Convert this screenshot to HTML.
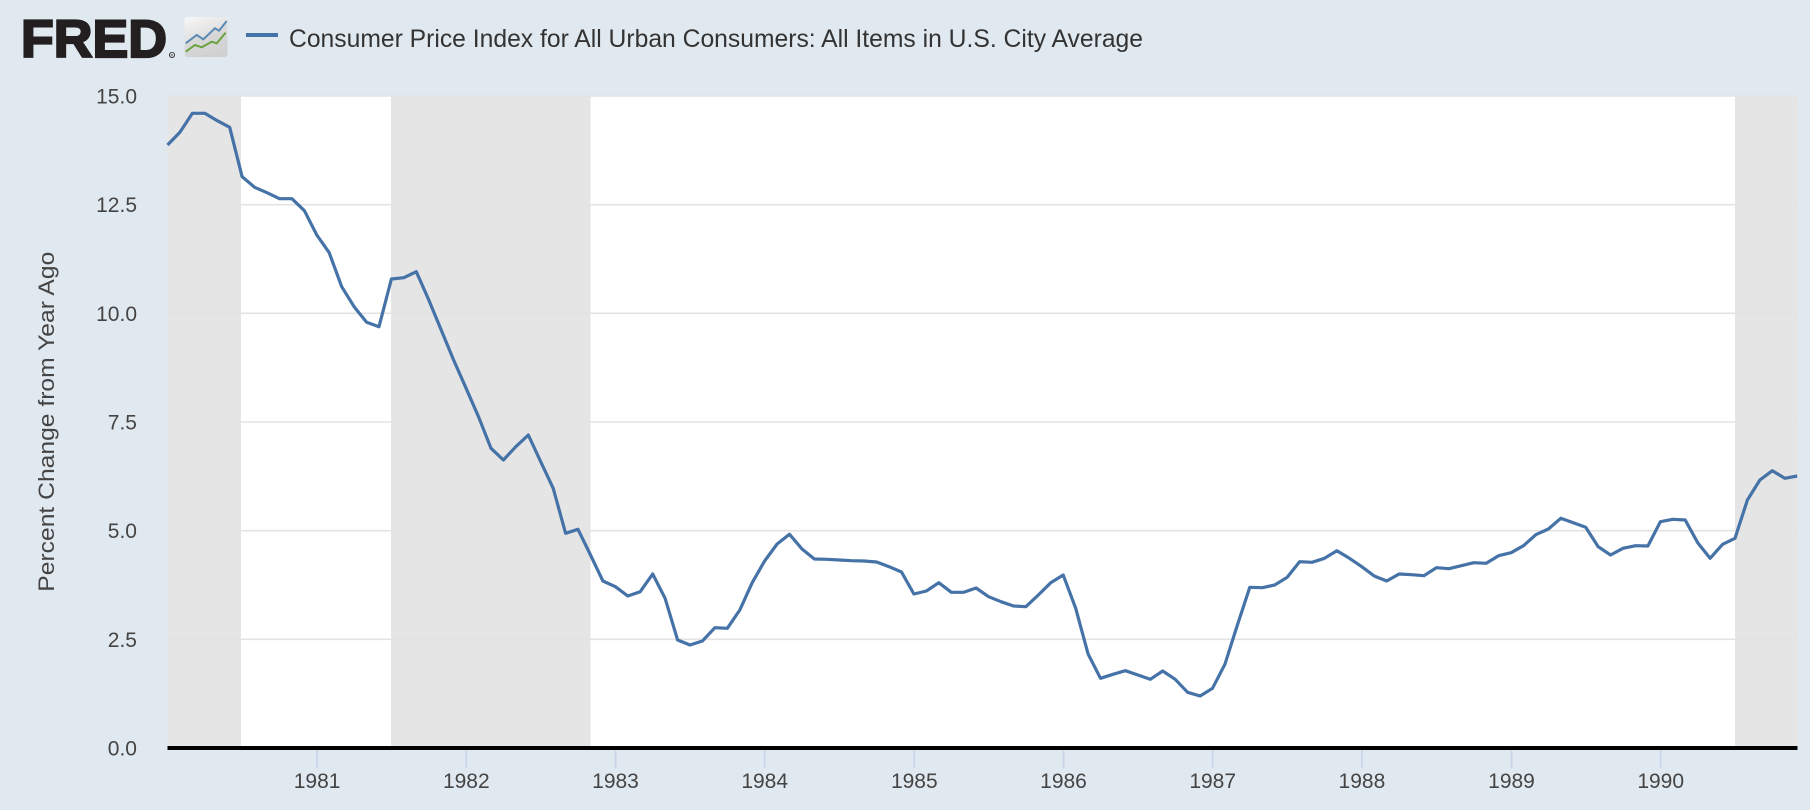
<!DOCTYPE html>
<html>
<head>
<meta charset="utf-8">
<style>
  html, body { margin: 0; padding: 0; background: #e1e9f0; }
  body { width: 1810px; height: 810px; overflow: hidden; }
  svg { display: block; }
  text { font-family: "Liberation Sans", "DejaVu Sans", sans-serif; }
</style>
</head>
<body>
<svg width="1810" height="810" viewBox="0 0 1810 810" xmlns="http://www.w3.org/2000/svg">
  <rect x="0" y="0" width="1810" height="810" fill="#e1e9f0"/>

  <!-- FRED logo -->
  <text x="21" y="57" font-size="53" font-weight="bold" fill="#231f20" stroke="#231f20" stroke-width="2.2" textLength="146" lengthAdjust="spacingAndGlyphs">FRED</text>
  <circle cx="172" cy="55" r="2.6" fill="none" stroke="#231f20" stroke-width="0.8"/>
  <text x="172" y="56.6" font-size="4" text-anchor="middle" fill="#231f20">R</text>

  <!-- logo icon -->
  <defs>
    <linearGradient id="ig" x1="0" y1="0" x2="0.4" y2="1">
      <stop offset="0" stop-color="#f7f7f7"/>
      <stop offset="1" stop-color="#cfcfcf"/>
    </linearGradient>
  </defs>
  <rect x="184.5" y="17" width="43" height="40" rx="3" fill="url(#ig)"/>
  <polygon points="185.7,43.3 196.7,35 203.3,39.3 215,28.3 219,30.7 226.7,21 226.7,55 185.7,55" fill="#d4d4d4" opacity="0.6"/>
  <polyline points="185.7,43.3 196.7,35 203.3,39.3 215,28.3 219,30.7 226.7,21" fill="none" stroke="#5b8ab5" stroke-width="2"/>
  <polyline points="185.7,51.7 195,45 201.7,47.3 211.7,41.7 216.7,43.3 225.7,32.7" fill="none" stroke="#6aa33f" stroke-width="2"/>

  <!-- legend -->
  <line x1="246" y1="35" x2="278" y2="35" stroke="#4572a7" stroke-width="4"/>
  <text x="289" y="47" font-size="25" fill="#333333" textLength="854" lengthAdjust="spacingAndGlyphs">Consumer Price Index for All Urban Consumers: All Items in U.S. City Average</text>

  <!-- plot background -->
  <rect x="167.5" y="96" width="1630" height="652" fill="#ffffff"/>

  <!-- recessions -->
  <rect x="167.5" y="96" width="73.5" height="652" fill="#e5e5e5"/>
  <rect x="391" y="96" width="199.6" height="652" fill="#e5e5e5"/>
  <rect x="1735" y="96" width="62.5" height="652" fill="#e5e5e5"/>

  <!-- gridlines -->
  <g stroke="#e3e3e3" stroke-width="1.6">
    <line x1="167.5" y1="96" x2="1797.5" y2="96"/>
    <line x1="167.5" y1="204.7" x2="1797.5" y2="204.7"/>
    <line x1="167.5" y1="313.3" x2="1797.5" y2="313.3"/>
    <line x1="167.5" y1="422" x2="1797.5" y2="422"/>
    <line x1="167.5" y1="530.7" x2="1797.5" y2="530.7"/>
    <line x1="167.5" y1="639.3" x2="1797.5" y2="639.3"/>
  </g>

  <!-- y tick labels -->
  <g font-size="21" fill="#444444" text-anchor="end">
    <text x="137" y="103.5">15.0</text>
    <text x="137" y="212.2">12.5</text>
    <text x="137" y="320.8">10.0</text>
    <text x="137" y="429.5">7.5</text>
    <text x="137" y="538.2">5.0</text>
    <text x="137" y="646.8">2.5</text>
    <text x="137" y="755.5">0.0</text>
  </g>

  <!-- y axis title -->
  <text transform="translate(54,421.7) rotate(-90)" font-size="22" fill="#444444" text-anchor="middle" textLength="340" lengthAdjust="spacingAndGlyphs">Percent Change from Year Ago</text>

  <!-- x ticks -->
  <g stroke="#ccd6eb" stroke-width="2">
    <line x1="317.1" y1="750" x2="317.1" y2="768"/>
    <line x1="466.3" y1="750" x2="466.3" y2="768"/>
    <line x1="615.5" y1="750" x2="615.5" y2="768"/>
    <line x1="764.7" y1="750" x2="764.7" y2="768"/>
    <line x1="914.3" y1="750" x2="914.3" y2="768"/>
    <line x1="1063.5" y1="750" x2="1063.5" y2="768"/>
    <line x1="1212.7" y1="750" x2="1212.7" y2="768"/>
    <line x1="1361.9" y1="750" x2="1361.9" y2="768"/>
    <line x1="1511.5" y1="750" x2="1511.5" y2="768"/>
    <line x1="1660.7" y1="750" x2="1660.7" y2="768"/>
  </g>
  <g font-size="21" fill="#444444" text-anchor="middle">
    <text x="317.1" y="788">1981</text>
    <text x="466.3" y="788">1982</text>
    <text x="615.5" y="788">1983</text>
    <text x="764.7" y="788">1984</text>
    <text x="914.3" y="788">1985</text>
    <text x="1063.5" y="788">1986</text>
    <text x="1212.7" y="788">1987</text>
    <text x="1361.9" y="788">1988</text>
    <text x="1511.5" y="788">1989</text>
    <text x="1660.7" y="788">1990</text>
  </g>

  <!-- data line -->
  <polyline fill="none" stroke="#4572a7" stroke-width="3.2" stroke-linejoin="round" stroke-linecap="butt" points="
167.5,145 179.9,132.3 192.4,113.3 204.8,113.3 217.3,120.7 229.7,127.3 242.1,176.7 254.6,187.3 267.0,192.7 279.5,198.7 291.9,198.7 304.4,210.7
316.8,235 329.2,252.7 341.7,286.7 354.1,306.7 366.6,322.3 379.0,326.7 391.4,279 403.9,277.7 416.3,271.7 428.8,300 441.2,330 453.6,360
466.1,388.3 478.5,416.7 491.0,448.3 503.4,460 515.8,446.7 528.3,435 540.7,461.7 553.2,488.3 565.6,533.3 578.0,529.3 590.5,555 602.9,581
615.4,586.7 627.8,596 640.2,591.7 652.7,574 665.1,598.3 677.6,640 690.0,645 702.4,641 714.9,627.7 727.3,628.3 739.8,610 752.2,582.7
764.6,561 777.1,544 789.5,534.3 802.0,549 814.4,559 826.9,559.3 839.3,560 851.7,560.7 864.2,561 876.6,562 889.1,566.7 901.5,572
913.9,594 926.4,591 938.8,582.7 951.3,592.3 963.7,592.3 976.1,588 988.6,596.7 1001.0,601.7 1013.5,606 1025.9,606.7 1038.3,595 1050.8,582.7
1063.2,575 1075.7,608.3 1088.1,654 1100.5,678.3 1113.0,674.3 1125.4,670.7 1137.9,675 1150.3,679.3 1162.7,671 1175.2,679.3 1187.6,692.3 1200.1,696
1212.5,688.3 1224.9,664.3 1237.4,625 1249.8,587.3 1262.3,587.7 1274.7,585 1287.2,577.3 1299.6,561.7 1312.0,562.3 1324.5,558.3 1336.9,550.7 1349.4,558.3
1361.8,566.7 1374.2,576 1386.7,581 1399.1,574 1411.6,574.7 1424.0,575.7 1436.4,567.7 1448.9,568.7 1461.3,565.7 1473.8,562.7 1486.2,563.3 1498.6,555.7
1511.1,552.7 1523.5,545.7 1536.0,534.6 1548.4,529 1560.8,518.3 1573.3,522.7 1585.7,527.3 1598.2,546.7 1610.6,555 1623.0,548.3 1635.5,545.7 1647.9,546
1660.4,521.7 1672.8,519.3 1685.2,520 1697.7,542.7 1710.1,558.3 1722.6,544.3 1735.0,538.3 1747.4,500 1759.9,480 1772.3,470.7 1784.8,478.3 1797.2,476"/>

  <!-- x axis line -->
  <line x1="167.5" y1="748" x2="1797.5" y2="748" stroke="#000000" stroke-width="4"/>
</svg>
</body>
</html>
